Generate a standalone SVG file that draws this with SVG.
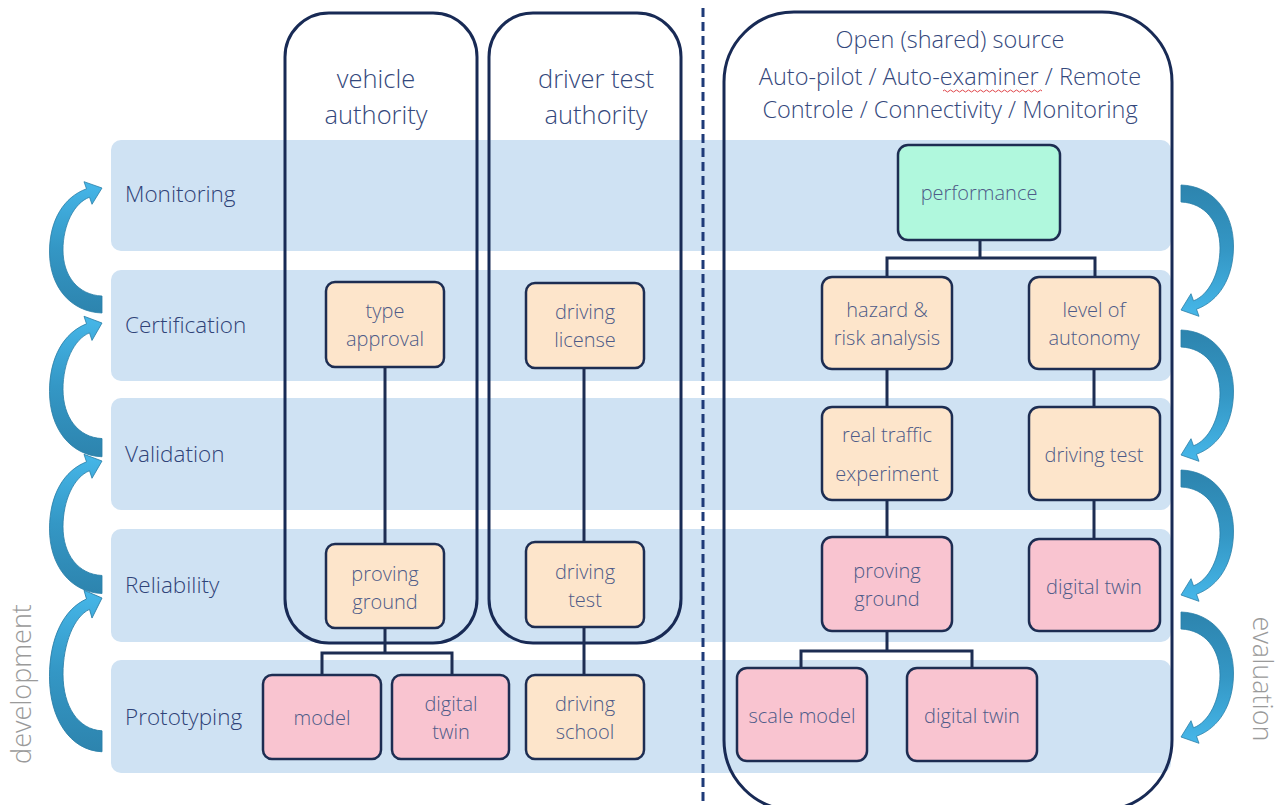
<svg xmlns="http://www.w3.org/2000/svg" width="1283" height="805" viewBox="0 0 1283 805">
  <defs>
    <style>
      .band { fill: #cfe2f3; }
      .frame { fill: none; stroke: #182a55; stroke-width: 3; }
      .box { stroke: #1d2d52; stroke-width: 2.5; }
      .peach { fill: #fde5cb; }
      .pink { fill: #f9c4d0; }
      .green { fill: #b0f8dd; }
      .conn { fill: none; stroke: #1d2d52; stroke-width: 3; }
      text { font-family: "Open Sans", "Noto Sans", "Liberation Sans", sans-serif; font-weight: 300; }
      .lbl { font-size: 20px; fill: #4e5b88; text-anchor: middle; }
      .row { font-size: 22.5px; fill: #2f4378; }
      .head { font-size: 25.5px; fill: #34487c; text-anchor: middle; }
      .src { font-size: 23.5px; fill: #34487c; text-anchor: middle; }
      .side { font-size: 27px; fill: #9a9a9a; text-anchor: middle; }
    </style>
    <linearGradient id="arrowFill" x1="0" y1="1" x2="0" y2="0">
      <stop offset="0" stop-color="#2d84ae"/>
      <stop offset="0.5" stop-color="#3497c5"/>
      <stop offset="1" stop-color="#46b7e9"/>
    </linearGradient>
    <!-- curved block arrow: tip at (102,0), tail end at x=102 -->
    <path id="curl" d="M 102 125 C 70 124 49.5 98 49.5 64 C 49.5 32 64 9 86.5 0.8 L 84 -6.3 L 102 0 L 92 16.3 L 89.5 9.2 C 74 15 63 37 63 62 C 63 88 78 107 102 108 Z" fill="url(#arrowFill)" stroke="#2a7fa8" stroke-width="0.8"/>
  </defs>

  <rect width="1283" height="805" fill="#ffffff"/>

  <!-- phase bands -->
  <g id="bands">
    <rect class="band" x="111" y="140" width="1060" height="111" rx="10"/>
    <rect class="band" x="111" y="270" width="1060" height="111" rx="10"/>
    <rect class="band" x="111" y="398" width="1060" height="112" rx="10"/>
    <rect class="band" x="111" y="529" width="1060" height="113" rx="10"/>
    <rect class="band" x="111" y="660" width="1060" height="113" rx="10"/>
  </g>

  <g id="row-labels">
    <text class="row" x="125" y="202">Monitoring</text>
    <text class="row" x="125" y="333">Certification</text>
    <text class="row" x="125" y="462">Validation</text>
    <text class="row" x="125" y="593">Reliability</text>
    <text class="row" x="125" y="725">Prototyping</text>
  </g>

  <!-- development / evaluation cycle arrows -->
  <g id="dev-arrows">
    <use href="#curl" transform="translate(0,188)"/>
    <use href="#curl" transform="translate(0,323) scale(1,1.07)"/>
    <use href="#curl" transform="translate(0,461) scale(1,1.06)"/>
    <use href="#curl" transform="translate(0,598) scale(1,1.23)"/>
  </g>
  <g id="eval-arrows">
    <use href="#curl" transform="translate(1283,310) rotate(180)"/>
    <use href="#curl" transform="translate(1283,455) rotate(180)"/>
    <use href="#curl" transform="translate(1283,595) rotate(180)"/>
    <use href="#curl" transform="translate(1283,737) rotate(180)"/>
  </g>
  <text class="side" transform="translate(31,684) rotate(-90)">development</text>
  <text class="side" transform="translate(1253,679) rotate(90)">evaluation</text>

  <!-- divider -->
  <line x1="703" y1="8" x2="703" y2="805" stroke="#1e3a78" stroke-width="3" stroke-dasharray="9,5"/>

  <!-- authority containers -->
  <g id="vehicle-authority">
    <rect class="frame" x="285" y="13" width="192" height="630" rx="44"/>
    <text class="head" x="376" y="88">vehicle</text>
    <text class="head" x="376" y="124">authority</text>
  </g>
  <g id="driver-test-authority">
    <rect class="frame" x="489" y="13" width="192" height="630" rx="44"/>
    <text class="head" x="596" y="88">driver test</text>
    <text class="head" x="596" y="124">authority</text>
  </g>
  <g id="open-source">
    <rect class="frame" x="724" y="12" width="448" height="798" rx="70"/>
    <text class="src" x="950" y="48">Open (shared) source</text>
    <text class="src" x="950" y="85">Auto-pilot / Auto-examiner / Remote</text>
    <text class="src" x="950" y="118">Controle / Connectivity / Monitoring</text>
    <path d="M 943 91 q 1.5 -2 3 0 t 3 0 t 3 0 t 3 0 t 3 0 t 3 0 t 3 0 t 3 0 t 3 0 t 3 0 t 3 0 t 3 0 t 3 0 t 3 0 t 3 0 t 3 0 t 3 0 t 3 0 t 3 0 t 3 0 t 3 0 t 3 0 t 3 0 t 3 0 t 3 0 t 3 0 t 3 0 t 3 0 t 3 0 t 3 0 t 3 0 t 3 0 t 3 0" fill="none" stroke="#e0474c" stroke-width="1"/>
  </g>

  <!-- connectors -->
  <g id="connectors">
    <path class="conn" d="M 385 367 V 544"/>
    <path class="conn" d="M 385 628 V 653 M 322 675 V 653 H 452 V 675"/>
    <path class="conn" d="M 584 368 V 542"/>
    <path class="conn" d="M 584 627 V 675"/>
    <path class="conn" d="M 980 240 V 258 M 887 277 V 258 H 1095 V 277"/>
    <path class="conn" d="M 887 369 V 407 M 887 500 V 537"/>
    <path class="conn" d="M 1094 369 V 407 M 1094 500 V 539"/>
    <path class="conn" d="M 887 631 V 651 M 801 668 V 651 H 972 V 668"/>
  </g>

  <!-- vehicle authority nodes -->
  <g id="type-approval">
    <rect class="box peach" x="326" y="282" width="118" height="85" rx="9"/>
    <text class="lbl" x="385" y="318">type</text>
    <text class="lbl" x="385" y="346">approval</text>
  </g>
  <g id="proving-ground-va">
    <rect class="box peach" x="326" y="544" width="118" height="84" rx="9"/>
    <text class="lbl" x="385" y="581">proving</text>
    <text class="lbl" x="385" y="609">ground</text>
  </g>
  <g id="model">
    <rect class="box pink" x="263" y="675" width="118" height="84" rx="9"/>
    <text class="lbl" x="322" y="725">model</text>
  </g>
  <g id="digital-twin-va">
    <rect class="box pink" x="392" y="675" width="117" height="84" rx="9"/>
    <text class="lbl" x="451" y="711">digital</text>
    <text class="lbl" x="451" y="739">twin</text>
  </g>

  <!-- driver test authority nodes -->
  <g id="driving-license">
    <rect class="box peach" x="526" y="283" width="118" height="85" rx="9"/>
    <text class="lbl" x="585" y="319">driving</text>
    <text class="lbl" x="585" y="347">license</text>
  </g>
  <g id="driving-test-dta">
    <rect class="box peach" x="526" y="542" width="118" height="85" rx="9"/>
    <text class="lbl" x="585" y="579">driving</text>
    <text class="lbl" x="585" y="607">test</text>
  </g>
  <g id="driving-school">
    <rect class="box peach" x="526" y="675" width="118" height="84" rx="9"/>
    <text class="lbl" x="585" y="711">driving</text>
    <text class="lbl" x="585" y="739">school</text>
  </g>

  <!-- open source nodes -->
  <g id="performance">
    <rect class="box green" x="898" y="145" width="162" height="95" rx="10"/>
    <text class="lbl" x="979" y="200">performance</text>
  </g>
  <g id="hazard-risk">
    <rect class="box peach" x="822" y="277" width="130" height="92" rx="10"/>
    <text class="lbl" x="887" y="317">hazard &amp;</text>
    <text class="lbl" x="887" y="345">risk analysis</text>
  </g>
  <g id="level-of-autonomy">
    <rect class="box peach" x="1029" y="277" width="131" height="92" rx="10"/>
    <text class="lbl" x="1094" y="317">level of</text>
    <text class="lbl" x="1094" y="345">autonomy</text>
  </g>
  <g id="real-traffic">
    <rect class="box peach" x="822" y="407" width="130" height="93" rx="10"/>
    <text class="lbl" x="887" y="442">real traffic</text>
    <text class="lbl" x="887" y="481">experiment</text>
  </g>
  <g id="driving-test-os">
    <rect class="box peach" x="1029" y="407" width="131" height="93" rx="10"/>
    <text class="lbl" x="1094" y="462">driving test</text>
  </g>
  <g id="proving-ground-os">
    <rect class="box pink" x="822" y="537" width="130" height="94" rx="10"/>
    <text class="lbl" x="887" y="578">proving</text>
    <text class="lbl" x="887" y="606">ground</text>
  </g>
  <g id="digital-twin-os-rel">
    <rect class="box pink" x="1029" y="539" width="131" height="92" rx="10"/>
    <text class="lbl" x="1094" y="594">digital twin</text>
  </g>
  <g id="scale-model">
    <rect class="box pink" x="737" y="668" width="130" height="93" rx="10"/>
    <text class="lbl" x="802" y="723">scale model</text>
  </g>
  <g id="digital-twin-os-proto">
    <rect class="box pink" x="907" y="668" width="130" height="93" rx="10"/>
    <text class="lbl" x="972" y="723">digital twin</text>
  </g>
</svg>
